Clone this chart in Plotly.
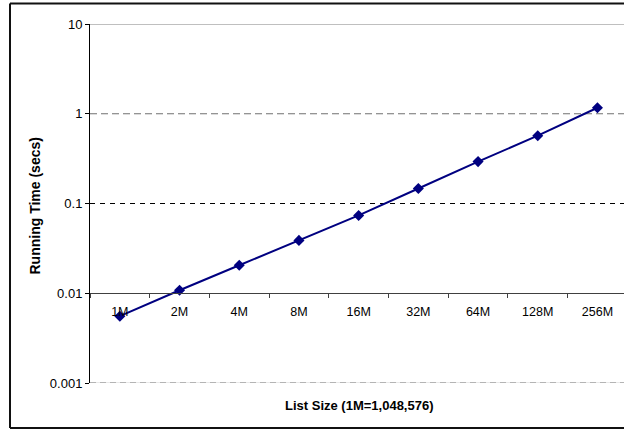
import plotly.graph_objects as go

categories = ["1M", "2M", "4M", "8M", "16M", "32M", "64M", "128M", "256M"]
running_time = [0.00555, 0.0108, 0.0205, 0.0388, 0.0736, 0.147, 0.293, 0.570, 1.166]
y_ticks = [0.001, 0.01, 0.1, 1, 10]
y_tick_labels = ["0.001", "0.01", "0.1", "1", "10"]

W, H = 624, 429
L, R, T, B = 90, 0, 24, 46
pw, ph = W - L - R, H - T - B

def px_x(x):
    return (x - L) / pw

def px_y(y):
    return (H - B - y) / ph

font = "Liberation Sans, Arial, sans-serif"

fig = go.Figure()
fig.add_trace(go.Scatter(
    x=categories, y=running_time, mode="lines+markers",
    line=dict(color="#000080", width=2),
    marker=dict(symbol="diamond", size=8.5, color="#000080"),
    showlegend=False, cliponaxis=False,
))

shapes = []
# gridlines
shapes.append(dict(type="line", xref="paper", yref="y", x0=0, x1=1, y0=10, y1=10,
                   line=dict(color="#808080", width=1)))
shapes.append(dict(type="line", xref="paper", yref="y", x0=0, x1=1, y0=1, y1=1,
                   line=dict(color="#707070", width=1, dash="7px,4px")))
shapes.append(dict(type="line", xref="paper", yref="y", x0=0, x1=1, y0=0.1, y1=0.1,
                   line=dict(color="#000000", width=1, dash="5px,5px")))
shapes.append(dict(type="line", xref="paper", yref="y", x0=0, x1=1, y0=0.001, y1=0.001,
                   line=dict(color="#d0d0d0", width=1)))
shapes.append(dict(type="line", xref="paper", yref="y", x0=0, x1=1, y0=0.001, y1=0.001,
                   line=dict(color="#808080", width=1, dash="6px,4px")))
for s in shapes:
    s["layer"] = "below"
# outer border (top, left, bottom edges; right edge lies outside the picture)
border = dict(color="#111111", width=2)
shapes.append(dict(type="line", xref="paper", yref="paper",
                   x0=px_x(10), x1=px_x(624), y0=px_y(3.5), y1=px_y(3.5), line=border, layer="above"))
shapes.append(dict(type="line", xref="paper", yref="paper",
                   x0=px_x(10), x1=px_x(10), y0=px_y(3.5), y1=px_y(428), line=border, layer="above"))
shapes.append(dict(type="line", xref="paper", yref="paper",
                   x0=px_x(10), x1=px_x(624), y0=px_y(428), y1=px_y(428), line=border, layer="above"))

fig.update_layout(
    width=W, height=H,
    margin=dict(l=L, r=R, t=T, b=B),
    paper_bgcolor="white", plot_bgcolor="white",
    font=dict(family=font, size=12.5, color="black"),
    shapes=shapes,
    xaxis=dict(
        type="category", range=[-0.5, -0.5 + pw / 59.7],
        anchor="free", position=px_y(293),
        showline=True, linecolor="#404040", linewidth=1,
        ticks="outside", ticklen=4, tickcolor="#404040", tickson="boundaries",
        ticklabelstandoff=7,
        showgrid=False, zeroline=False,
        tickfont=dict(size=12.5, family=font, color="black"),
    ),
    yaxis=dict(
        type="log", range=[-3, 1],
        tickvals=y_ticks, ticktext=y_tick_labels,
        showline=True, linecolor="black", linewidth=1,
        ticks="outside", ticklen=4, tickcolor="black",
        showgrid=False, zeroline=False,
        tickfont=dict(size=13, family=font, color="black"),
    ),
    annotations=[
        dict(text="<b>Running Time (secs)</b>", xref="paper", yref="paper",
             x=px_x(34.5), y=px_y(206), textangle=-90, showarrow=False,
             xanchor="center", yanchor="middle", font=dict(size=14, family=font)),
        dict(text="<b>List Size (1M=1,048,576)</b>", xref="paper", yref="paper",
             x=px_x(359), y=px_y(405), showarrow=False,
             xanchor="center", yanchor="middle", font=dict(size=13, family=font)),
    ],
)

fig.write_html("out.html", config={"displayModeBar": False},
               post_script="document.body.style.margin='0';document.body.style.overflow='hidden';")
